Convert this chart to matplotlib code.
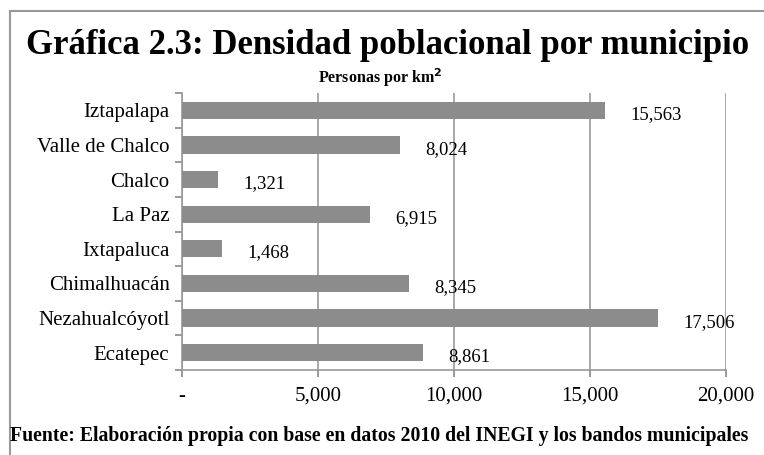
import matplotlib.pyplot as plt
from matplotlib.patches import Rectangle

municipios = ["Iztapalapa", "Valle de Chalco", "Chalco", "La Paz",
              "Ixtapaluca", "Chimalhuacán", "Nezahualcóyotl", "Ecatepec"]
densidad = [15563, 8024, 1321, 6915, 1468, 8345, 17506, 8861]
xticks = [0, 5000, 10000, 15000, 20000]
xtick_labels = ["-", "5,000", "10,000", "15,000", "20,000"]

plt.rcParams['font.family'] = ['Liberation Serif', 'DejaVu Serif']

fig = plt.figure(figsize=(7.64, 4.55), dpi=100)

# outer frame of the chart area (cut by the page edge)
fig.patches.append(Rectangle((10/764, -0.1), 1.0, 1 - 11/455 + 0.1,
                             transform=fig.transFigure, fill=False,
                             edgecolor='#999999', linewidth=1.5))

ax = fig.add_axes([182/764, 1 - 370/455, (726 - 182)/764, (370 - 93)/455])

ypos = list(range(len(municipios)))
ax.barh(ypos, densidad, height=0.5, color='#8c8c8c', zorder=3)
ax.set_ylim(len(municipios) - 0.5, -0.5)
ax.set_xlim(0, 20000)

for y, v in zip(ypos, densidad):
    ax.annotate(f"{v:,}", (v, y), xytext=(18, -3), textcoords='offset points',
                ha='left', va='center', fontsize=13.5)

ax.set_xticks(xticks)
ax.set_xticklabels(xtick_labels, fontsize=15)
ax.set_yticks(ypos)
ax.set_yticklabels(municipios, fontsize=15)
ax.set_yticks([i - 0.5 for i in range(len(municipios) + 1)], minor=True)
ax.tick_params(axis='y', which='major', length=0, pad=9)
ax.tick_params(axis='y', which='minor', length=5, color='#888888', width=1.2)
ax.tick_params(axis='x', length=5, color='#888888', width=1.2, pad=7)

ax.grid(axis='x', color='#999999', linewidth=1.2, zorder=0)
for s in ['top', 'right']:
    ax.spines[s].set_visible(False)
for s in ['left', 'bottom']:
    ax.spines[s].set_color('#999999')
    ax.spines[s].set_linewidth(1.2)

fig.text(388/764, 1 - 46/455, "Gráfica 2.3: Densidad poblacional por municipio",
         ha='center', va='center', fontsize=25, fontweight='bold')
fig.text(380/764, 1 - 78/455, r"Personas por km$^\mathbf{2}$",
         ha='center', va='center', fontsize=11.5, fontweight='bold')
fig.text(10/764, 1 - 436/455,
         "Fuente: Elaboración propia con base en datos 2010 del INEGI y los bandos municipales",
         ha='left', va='center', fontsize=14.2, fontweight='bold')

fig.savefig("out.png", dpi=100)
